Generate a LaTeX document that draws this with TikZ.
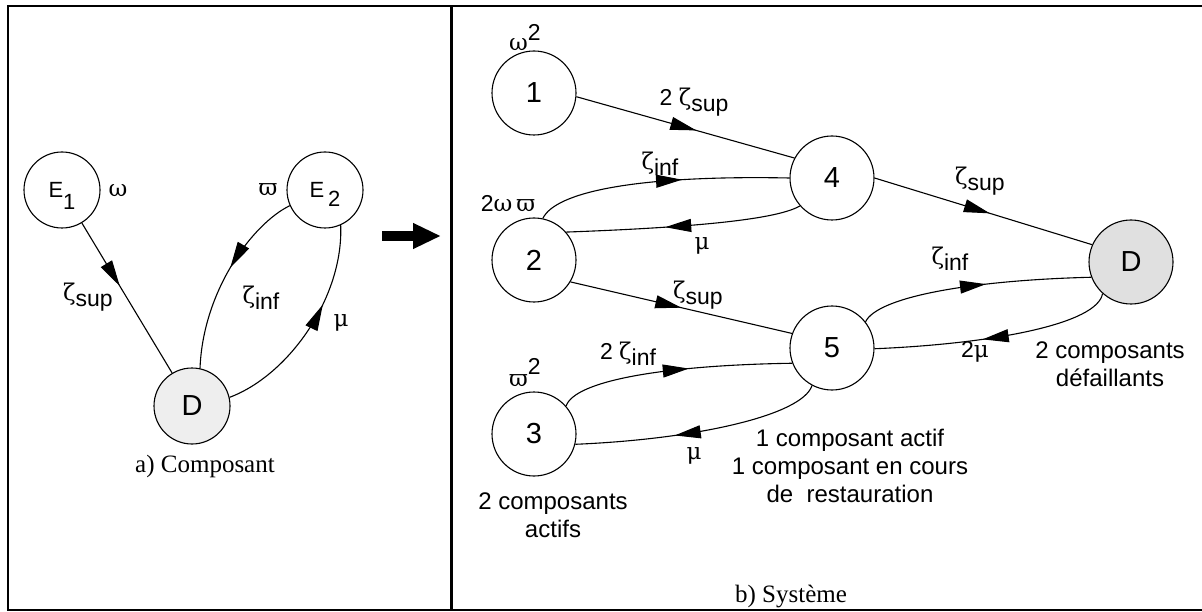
\documentclass[tikz,border=0pt]{standalone}
\usepackage{fontspec}
\setmainfont{Liberation Sans}
\newfontfamily\tms{Liberation Serif}
\newfontfamily\grk{DejaVu Serif}
\usetikzlibrary{arrows.meta,decorations.markings}
\newcommand\zs[1]{{\grk ζ}\raisebox{-6pt}{#1}}
\begin{document}
\begin{tikzpicture}[x=1pt,y=-1pt,
  every node/.style={font=\fontsize{23}{28}\selectfont, inner sep=0pt},
  stR/.style={circle, draw, line width=1.1pt, minimum size=84pt, inner sep=0pt, font=\fontsize{29}{34}\selectfont},
  stL/.style={circle, draw, line width=1.1pt, minimum size=76pt, inner sep=0pt, font=\fontsize{22}{28}\selectfont},
  edg/.style={line width=1.1pt},
  marr/.style={postaction={decorate}, decoration={markings, mark=at position #1 with {\arrow{Triangle[length=26pt,width=13pt]}}}},
  ttl/.style={font=\tms\fontsize{25}{30}\selectfont},
  txt/.style={align=center, font=\fontsize{24}{28}\selectfont}
]
\definecolor{dlight}{HTML}{EEEEEE}
\definecolor{dgray}{HTML}{E0E0E0}
\useasboundingbox (0,0) rectangle (1202,612);
% frame
\draw[line width=2.6pt] (1205,6) -- (8,6) -- (8,610) -- (1205,610);
\draw[line width=2.6pt] (451.5,6) -- (451.5,610);

% ---- left part
\node[stL] (E1) at (62,190) {E\smash{\raisebox{-12pt}{1}}};
\node[stL] (E2) at (325,190) {E\,\smash{\raisebox{-9pt}{2}}};
\node[stL, fill=dlight, font=\fontsize{29}{34}\selectfont] (DL) at (192,406) {D};

\draw[edg, marr=0.42] (E1) -- (DL);
\draw[edg, marr=0.45] (E2.204) .. controls +(-37,18) and +(3,-78) .. (DL.78);
\draw[edg, marr=0.62] (DL.13) .. controls +(59,-22) and +(3,72) .. (E2.-66);

\node (lw) at (118,191) {\grk ω};
\node (lvp) at (268,190) {\grk ϖ};
\node (lzs) at (88,297) {\zs{sup}};
\node (lzi) at (261,298) {\zs{inf}};
\node (lmu) at (341,323) {\grk μ};
\node[ttl] (ta) at (205,466) {a) Composant};

% big arrow
\coordinate (ba1) at (382,236);
\coordinate (ba2) at (441,236);
\draw[line width=10pt, -{Triangle[length=28pt,width=24pt]}] (ba1) -- (ba2);

% ---- right part
\node[stR] (n1) at (534,93) {1};
\node[stR] (n2) at (534,260) {2};
\node[stR] (n3) at (534,434) {3};
\node[stR] (n4) at (832,178) {4};
\node[stR] (n5) at (832,348) {5};
\node[stR, fill=dgray] (nD) at (1131,262) {D};

\draw[edg, marr=0.55] (n1.-5) -- (n4.152);
\draw[edg, marr=0.58] (n2.78) .. controls +(13,-27) and +(-150,-3) .. (n4.180);
\draw[edg, marr=0.58] (n4.221) .. controls +(-25,15) and +(110,-4) .. (n2.41);
\draw[edg, marr=0.5] (n2.-31) -- (n5.160);
\draw[edg, marr=0.56] (n3.41) .. controls +(8,-25) and +(-130,2) .. (n5.201);
\draw[edg, marr=0.6] (n5.242) .. controls +(-10,30) and +(120,-5) .. (n3.-14);
\draw[edg, marr=0.53] (n4.0) -- (nD.156);
\draw[edg, marr=0.55] (n5.38) .. controls +(12,-25) and +(-120,3) .. (nD.201);
\draw[edg, marr=0.55] (nD.228) .. controls +(-5,30) and +(120,-5) .. (n5.-1);

\node (rw2) at (525,38) {{\grk ω}\raisebox{10pt}{2}};
\node (r2zs) at (694,102) {2 \zs{sup}};
\node (rzi1) at (660,164) {\zs{inf}};
\node (r2wv) at (508,204) {2{\grk ω}\,{\grk ϖ}};
\node (rmu1) at (702,246) {\grk μ};
\node (rzs2) at (698,295) {\zs{sup}};
\node (rvp2) at (525,373) {{\grk ϖ}\raisebox{12pt}{2}};
\node (r2zi) at (628,354) {2 \zs{inf}};
\node (rmu2) at (694,456) {\grk μ};
\node (rzs3) at (980,181) {\zs{sup}};
\node (rzi3) at (950,259) {\zs{inf}};
\node (r2mu) at (975,352) {2{\grk μ}};
\node[txt] (tdef) at (1110,364) {2 composants\\défaillants};
\node[txt] (tact) at (850,466) {1 composant actif\\1 composant en cours\\de\ \ restauration};
\node[txt] (t2act) at (553,515) {2 composants\\actifs};
\node[ttl, anchor=base] (tb) at (791,602) {b) Système};
\end{tikzpicture}
\end{document}
